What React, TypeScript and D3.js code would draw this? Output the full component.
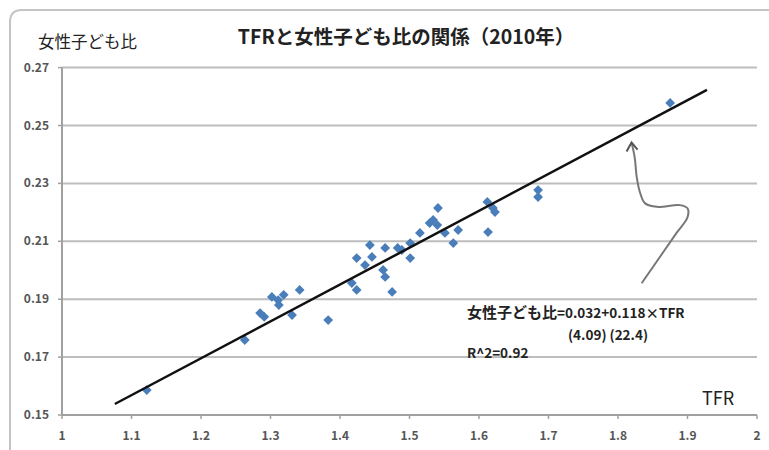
import React from "react";
import * as d3 from "d3";

// TFR (x) and female/child ratio (y)
const tfr = [
  1.122, 1.263, 1.285, 1.291, 1.302, 1.311, 1.319, 1.312, 1.331, 1.342, 1.383,
  1.417, 1.424, 1.424, 1.436, 1.443, 1.446, 1.462, 1.465, 1.465, 1.475, 1.483,
  1.489, 1.501, 1.501, 1.515, 1.529, 1.534, 1.54, 1.541, 1.551, 1.563, 1.57,
  1.612, 1.62, 1.623, 1.613, 1.685, 1.685, 1.875,
];
const ratio = [
  0.1586, 0.1759, 0.1852, 0.1839, 0.1908, 0.1897, 0.1915, 0.188, 0.1845, 0.1932,
  0.1828, 0.1956, 0.1932, 0.2042, 0.2018, 0.2087, 0.2046, 0.2001, 0.1977, 0.2077,
  0.1925, 0.2077, 0.207, 0.2094, 0.2042, 0.2129, 0.2163, 0.2174, 0.2156, 0.2215,
  0.2129, 0.2094, 0.2139, 0.2236, 0.2215, 0.2201, 0.2132, 0.2277, 0.2253, 0.2578,
];

// drawn trend line ends
const trendX = [1.076, 1.928];
const trendY = [0.1538, 0.2623];

const xTicks = [1, 1.1, 1.2, 1.3, 1.4, 1.5, 1.6, 1.7, 1.8, 1.9, 2];
const xTickLabels = ["1", "1.1", "1.2", "1.3", "1.4", "1.5", "1.6", "1.7", "1.8", "1.9", "2"];
const yTicks = [0.15, 0.17, 0.19, 0.21, 0.23, 0.25, 0.27];
const yTickLabels = ["0.15", "0.17", "0.19", "0.21", "0.23", "0.25", "0.27"];

// hand-drawn arrow, in data units
const arrowX = [1.834, 1.86, 1.884, 1.9, 1.9, 1.889, 1.856, 1.839, 1.832, 1.827, 1.824, 1.8195];
const arrowY = [0.1955, 0.2045, 0.2128, 0.2183, 0.2214, 0.2225, 0.2219, 0.2231, 0.2266, 0.2321, 0.239, 0.2441];

const title = "TFRと女性子ども比の関係（2010年）";
const yLabel = "女性子ども比";
const xLabel = "TFR";

const W = 769;
const H = 450;
const font = "'Noto Sans CJK JP', 'Noto Sans', sans-serif";

export default function App() {
  const x = d3.scaleLinear().domain([1, 2]).range([62, 757]);
  const y = d3.scaleLinear().domain([0.15, 0.27]).range([415, 67.6]);

  const trend = d3.line<number>()
    .x((d, i) => x(trendX[i]))
    .y((d, i) => y(trendY[i]));
  const arrow = d3.line<number>()
    .x((d, i) => x(arrowX[i]))
    .y((d, i) => y(arrowY[i]))
    .curve(d3.curveCatmullRom);

  const tipX = x(arrowX[arrowX.length - 1]);
  const tipY = y(arrowY[arrowY.length - 1]);

  // excel-style diamond: a square turned 45 degrees
  const diamond = d3.symbol().type(d3.symbolSquare).size(48)();

  return (
    <svg
      width={W}
      height={H}
      style={{ position: "absolute", left: 0, top: 0, background: "#fff" }}
      fontFamily={font}
    >
      {/* chart frame */}
      <path
        d={`M10,${H + 5} L10,22 Q10,10 22,10 L${W + 5},10`}
        fill="none"
        stroke="#c4c4c4"
        strokeWidth={2}
      />

      {/* grid */}
      {yTicks.slice(1).map((t) => (
        <line key={t} x1={x(1)} x2={x(2)} y1={y(t)} y2={y(t)} stroke="#bdbdbd" strokeWidth={2} />
      ))}

      {/* axes */}
      <line x1={x(1)} x2={x(1)} y1={y(0.27)} y2={y(0.15)} stroke="#a0a0a0" strokeWidth={2} />
      <line x1={x(1)} x2={x(2)} y1={y(0.15)} y2={y(0.15)} stroke="#a0a0a0" strokeWidth={2} />
      {yTicks.map((t, i) => (
        <g key={t}>
          <line x1={x(1) - 4} x2={x(1)} y1={y(t)} y2={y(t)} stroke="#a0a0a0" strokeWidth={1.5} />
          <text x={49} y={y(t) + 4} textAnchor="end" fontSize={12} fontWeight="bold" fill="#555">
            {yTickLabels[i]}
          </text>
        </g>
      ))}
      {xTicks.map((t, i) => (
        <g key={t}>
          <line x1={x(t)} x2={x(t)} y1={y(0.15)} y2={y(0.15) + 4} stroke="#a0a0a0" strokeWidth={1.5} />
          <text x={x(t)} y={y(0.15) + 25} textAnchor="middle" fontSize={12} fontWeight="bold" fill="#555">
            {xTickLabels[i]}
          </text>
        </g>
      ))}

      {/* points */}
      {tfr.map((v, i) => (
        <path
          key={i}
          d={diamond!}
          transform={`translate(${x(v)},${y(ratio[i])}) rotate(45)`}
          fill="#4a7ebb"
        />
      ))}

      {/* trend line */}
      <path d={trend(trendX)!} fill="none" stroke="#111" strokeWidth={2.5} />

      {/* arrow */}
      <path d={arrow(arrowX)!} fill="none" stroke="#777" strokeWidth={2} />
      <path
        d={`M${tipX - 5},${tipY + 9} L${tipX},${tipY} L${tipX + 6},${tipY + 7}`}
        fill="none"
        stroke="#555"
        strokeWidth={2}
      />

      {/* titles */}
      <text x={406} y={44} textAnchor="middle" fontSize={19.5} fontWeight="bold" fill="#222">
        {title}
      </text>
      <text x={38} y={48} fontSize={16.5} fill="#222">
        {yLabel}
      </text>
      <text x={718} y={405} textAnchor="middle" fontSize={18} fill="#222">
        {xLabel}
      </text>

      {/* regression note */}
      <text x={467} y={318} fill="#222" fontWeight="bold">
        <tspan fontSize={15}>女性子ども比</tspan>
        <tspan fontSize={13.5}>=0.032+0.118×TFR</tspan>
      </text>
      <text x={568} y={340} fontSize={13.5} fontWeight="bold" fill="#222">
        (4.09) (22.4)
      </text>
      <text x={467} y={358} fontSize={13.5} fontWeight="bold" fill="#222">
        R^2=0.92
      </text>
    </svg>
  );
}
